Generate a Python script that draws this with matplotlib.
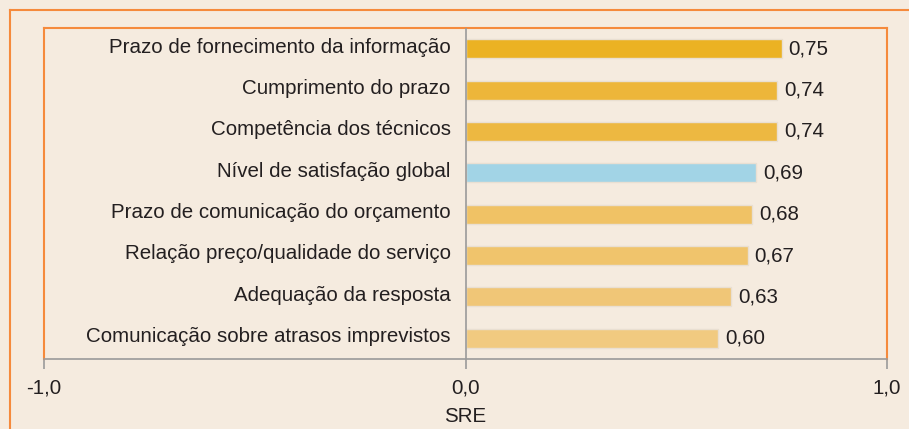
import matplotlib.pyplot as plt
from matplotlib.lines import Line2D

categories = [
    "Prazo de fornecimento da informação",
    "Cumprimento do prazo",
    "Competência dos técnicos",
    "Nível de satisfação global",
    "Prazo de comunicação do orçamento",
    "Relação preço/qualidade do serviço",
    "Adequação da resposta",
    "Comunicação sobre atrasos imprevistos",
]
values = [0.75, 0.74, 0.74, 0.69, 0.68, 0.67, 0.63, 0.60]
value_labels = ["0,75", "0,74", "0,74", "0,69", "0,68", "0,67", "0,63", "0,60"]
bar_colors = ["#ebb223", "#edb63a", "#edb841", "#a2d4e6",
              "#f0c265", "#f0c46c", "#f0c677", "#f1ca80"]
xticks = [-1.0, 0.0, 1.0]
xtick_labels = ["-1,0", "0,0", "1,0"]

plt.rcParams['font.family'] = ['Liberation Sans', 'DejaVu Sans']
bg = "#f5ebdf"
orange = "#f58a3c"
grey = "#9a9a9a"
txt = "#231f20"
fs = 14.8

fig = plt.figure(figsize=(9.09, 4.29), dpi=100, facecolor=bg)
ax = fig.add_axes([44/909, 1 - 359/429, (887 - 44)/909, (359 - 28)/429])
ax.set_facecolor(bg)

# outer frame, only top and left visible
fig.add_artist(Line2D([9.5/909, 9.5/909], [0, 1 - 9.5/429], color=orange, lw=1.5))
fig.add_artist(Line2D([9.5/909, 1], [1 - 9.5/429, 1 - 9.5/429], color=orange, lw=1.5))

ypos = list(range(len(categories)))
ax.barh(ypos, values, height=0.46, color=bar_colors, edgecolor="#e9dfd2", linewidth=1, zorder=2)
for y, v, lab in zip(ypos, values, value_labels):
    ax.text(v + 0.016, y, lab, va="center", ha="left", fontsize=fs, color=txt)

ax.axvline(0, color=grey, lw=1.2, zorder=3)
ax.set_xlim(-1, 1)
ax.set_ylim(len(categories) - 0.5, -0.5)

for y, cat in zip(ypos, categories):
    ax.text(-0.035, y - 0.04, cat, va="center", ha="right", fontsize=fs, color=txt)

ax.set_yticks([])
ax.set_xticks(xticks)
ax.set_xticklabels(xtick_labels, fontsize=fs, color=txt)
ax.tick_params(axis="x", direction="out", length=7, width=1.2, color=grey, pad=7)
ax.set_xlabel("SRE", fontsize=fs, color=txt, labelpad=7)

for side in ["left", "top", "right"]:
    ax.spines[side].set_color(orange)
    ax.spines[side].set_linewidth(1.5)
ax.spines["bottom"].set_color(grey)
ax.spines["bottom"].set_linewidth(1.2)

fig.savefig("out.png", dpi=100, facecolor=bg)
